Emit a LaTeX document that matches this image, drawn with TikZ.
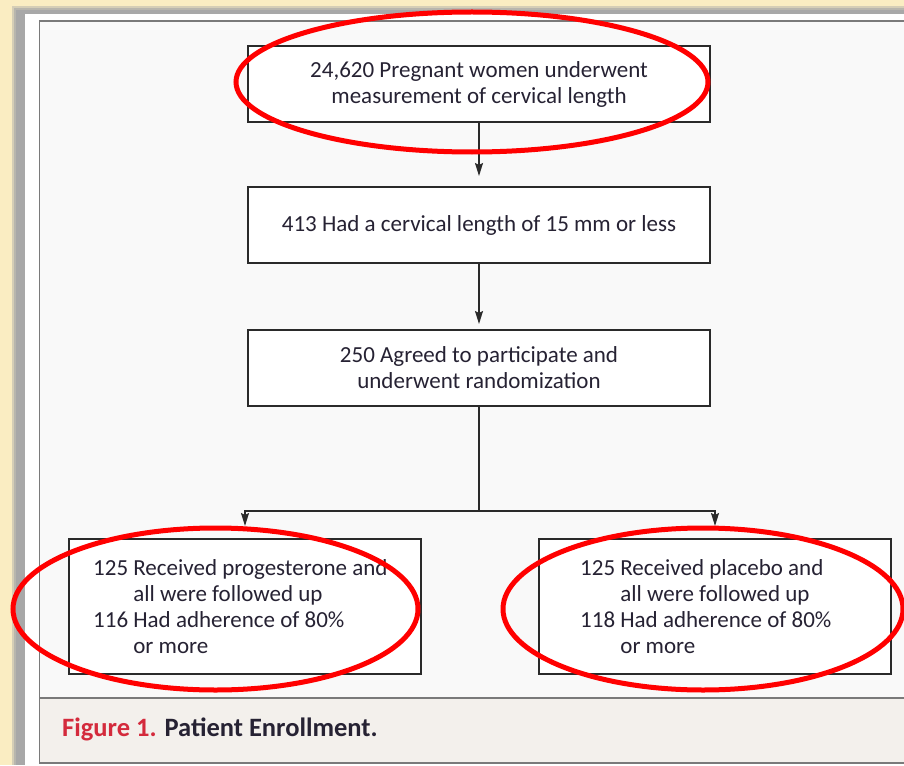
\documentclass[tikz,border=0pt]{standalone}
\usepackage{fontspec}
\setmainfont{Carlito}
\usetikzlibrary{arrows.meta}
\definecolor{beige}{HTML}{FAEDC2}
\definecolor{shadowgray}{HTML}{A8A8A8}
\definecolor{panelfill}{HTML}{F9F9F9}
\definecolor{captionfill}{HTML}{F3F0EC}
\definecolor{framegray}{HTML}{7A7A7A}
\definecolor{boxline}{HTML}{2A2A2A}
\definecolor{textdark}{HTML}{262233}
\definecolor{figred}{HTML}{D42A3C}
\definecolor{markred}{HTML}{FF0000}
\tikzset{
  flowbox/.style={draw=boxline, line width=2pt, fill=white, minimum width=462pt, minimum height=76pt, align=center, inner sep=0pt, font=\fontsize{23}{26}\selectfont, text=textdark},
  armbox/.style={draw=boxline, line width=2pt, fill=white, minimum width=352pt, minimum height=135pt, inner sep=0pt},
  armtext/.style={anchor=west, inner sep=0pt, font=\fontsize{23}{26}\selectfont, text=textdark},
  conn/.style={draw=boxline, line width=1.5pt},
  arr/.style={conn, -{Stealth[length=13pt,width=8pt,inset=2pt]}},
  redring/.style={draw=markred, line width=5pt}
}
\begin{document}
\begin{tikzpicture}[x=1pt,y=-1pt]
\useasboundingbox (0,0) rectangle (904,765);
% outer glow and frame
\fill[beige] (0,0) rectangle (904,765);
\fill[shadowgray!45!beige] (12,6) rectangle (904,765);
\fill[shadowgray!80!beige] (14,8) rectangle (904,765);
\fill[shadowgray] (16,10) rectangle (904,765);
\fill[white] (25,14) rectangle (904,765);
% panel
\filldraw[fill=panelfill, draw=framegray, line width=1.5pt] (39.5,21) rectangle (910,763);
\filldraw[fill=captionfill, draw=framegray, line width=1.5pt] (39.5,698) rectangle (910,763);
% caption
\node[anchor=west, font=\fontsize{26.5}{30}\selectfont\bfseries, inner sep=0pt] (cap) at (62,729)
  {\textcolor{figred}{Figure 1.} \textcolor{textdark}{Patient Enrollment.}};
% boxes
\node[flowbox] (b1) at (479,84.5) {24,620 Pregnant women underwent\\measurement of cervical length};
\node[flowbox] (b2) at (479,225) {413 Had a cervical length of 15 mm or less};
\node[flowbox] (b3) at (479,368) {250 Agreed to participate and\\underwent randomization};
\node[armbox] (b4) at (245,606.5) {};
\node[armbox] (b5) at (715,606.5) {};
\node[armtext] (t4) at (93,609.5) {\begin{tabular}{@{}l@{\ }l@{}}125 & Received progesterone and\\ & all were followed up\\116 & Had adherence of 80\%\\ & or more\end{tabular}};
\node[armtext] (t5) at (580,609.5) {\begin{tabular}{@{}l@{\ }l@{}}125 & Received placebo and\\ & all were followed up\\118 & Had adherence of 80\%\\ & or more\end{tabular}};
% connectors
\coordinate (split) at (479,511);
\draw[arr, shorten >=10pt] (b1.south) -- (b2.north);
\draw[arr, shorten >=5pt] (b2.south) -- (b3.north);
\draw[conn] (b3.south) -- (split);
\draw[arr, shorten >=12pt] (split) -| (b4.north);
\draw[arr, shorten >=12pt] (split) -| (b5.north);
% red annotation ellipses
\draw[redring] (472,82) ellipse [x radius=236, y radius=70];
\draw[redring] (215.5,609) ellipse [x radius=202.5, y radius=81];
\draw[redring] (703,609) ellipse [x radius=200, y radius=81];
\end{tikzpicture}
\end{document}
